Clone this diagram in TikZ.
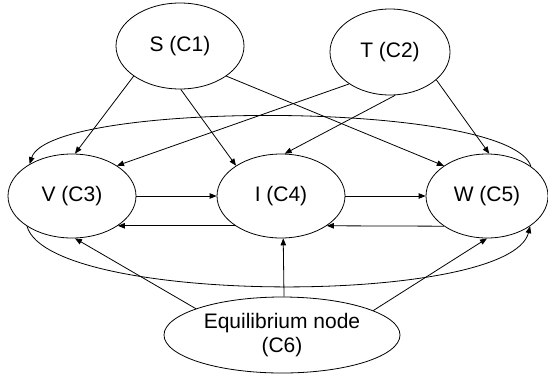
\documentclass[tikz,border=0pt]{standalone}
\usepackage{fontspec}
\setmainfont{Liberation Sans}
\usetikzlibrary{shapes.geometric,arrows.meta}
\begin{document}
\begin{tikzpicture}[x=1pt,y=1pt,
  ell/.style={draw,ellipse,inner sep=0pt,line width=0.8pt,font=\fontsize{21}{24}\selectfont,align=center},
  arr/.style={line width=0.8pt,-{Triangle[length=7pt,width=5.5pt]}}]
\useasboundingbox (0,0) rectangle (548,-386);
\node[ell,minimum width=128pt,minimum height=86pt] (S) at (180,-46) {S (C1)};
\node[ell,minimum width=120pt,minimum height=86pt] (T) at (390,-52) {T (C2)};
\node[ell,minimum width=128pt,minimum height=84pt] (V) at (72,-196) {V (C3)};
\node[ell,minimum width=128pt,minimum height=84pt] (I) at (281,-196) {I (C4)};
\node[ell,minimum width=122pt,minimum height=84pt] (W) at (487,-196) {W (C5)};
\node[ell,minimum width=236pt,minimum height=76pt] (E) at (282,-335) {Equilibrium node\\(C6)};
% from S
\draw[arr] (S.213) -- (V.86);
\draw[arr] (S.271) -- (I.146);
\draw[arr] (S.327) -- (W.145);
% from T
\draw[arr] (T.218) -- (V.34);
\draw[arr] (T.277) -- (I.85);
\draw[arr] (T.329) -- (W.87);
% horizontal
\draw[arr] (V.0) -- (I.180);
\draw[arr] (I.0) -- (W.180);
\draw[arr] (W.215.1) -- (I.-33.8);
\draw[arr] (I.213.8) -- (V.-33.8);
% from C6
\draw[arr] (E.163.6) -- (V.274);
\draw[arr] (E.87) -- (I.273);
\draw[arr] (E.15.5) -- (W.270);
% big curves
\draw[arr] (W.34) .. controls (510,-100) and (50,-100) .. (V.143);
\draw[arr] (V.214) .. controls (50,-306) and (510,-306) .. (W.325);
\end{tikzpicture}
\end{document}
